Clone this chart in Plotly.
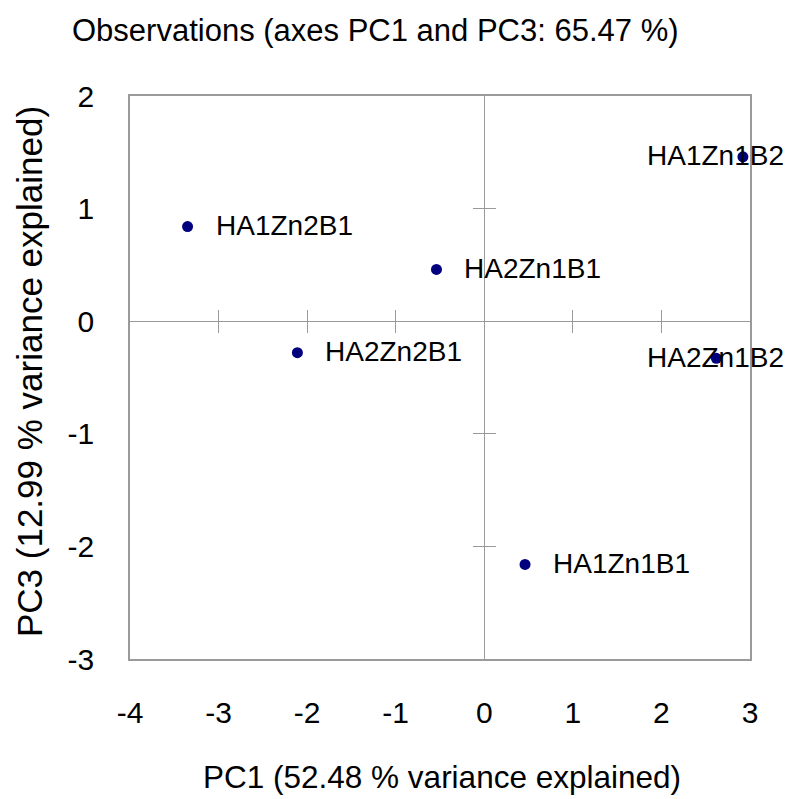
import plotly.graph_objects as go

# ---- data ----
obs_names = ["HA1Zn2B1", "HA2Zn2B1", "HA2Zn1B1", "HA1Zn1B2", "HA2Zn1B2", "HA1Zn1B1"]
pc1_vals = [-3.35, -2.11, -0.54, 2.92, 2.62, 0.46]
pc3_vals = [0.84, -0.28, 0.46, 1.46, -0.33, -2.16]

x_ticks = [-4, -3, -2, -1, 0, 1, 2, 3]
x_tick_labels = ["-4", "-3", "-2", "-1", "0", "1", "2", "3"]
y_ticks = [-3, -2, -1, 0, 1, 2]
y_tick_labels = ["-3", "-2", "-1", "0", "1", "2"]
x_cross_ticks = [-3, -2, -1, 1, 2]
y_cross_ticks = [-2, -1, 1]

title_text = "Observations (axes PC1 and PC3: 65.47 %)"
x_title = "PC1 (52.48 % variance explained)"
y_title = "PC3 (12.99 % variance explained)"

# label pixel offsets (style)
label_xshift = {"HA1Zn1B2": -98, "HA2Zn1B2": -71}

FONT = "Liberation Sans, Arial, sans-serif"
GRAY = "#9a9a9a"
NAVY = "#00007f"
XR = [-4, 3]
YR = [-3, 2]

fig = go.Figure()
fig.add_trace(go.Scatter(
    x=pc1_vals, y=pc3_vals, mode="markers",
    marker=dict(color=NAVY, size=11),
    hoverinfo="text", text=obs_names, showlegend=False,
))
# dummy traces so the cross-tick axes render
for xa, ya in [("x2", "y"), ("x3", "y"), ("x", "y2"), ("x", "y3")]:
    fig.add_trace(go.Scatter(x=[None], y=[None], xaxis=xa, yaxis=ya,
                             showlegend=False, hoverinfo="skip"))

for name, xv, yv in zip(obs_names, pc1_vals, pc3_vals):
    fig.add_annotation(x=xv, y=yv, xref="x", yref="y", text=name,
                       showarrow=False, xanchor="left", yanchor="middle",
                       xshift=label_xshift.get(name, 26), yshift=1,
                       font=dict(family=FONT, size=28, color="black"))

axis_common = dict(showgrid=False, zeroline=True, zerolinecolor=GRAY, zerolinewidth=1.3,
                   showline=True, linecolor=GRAY, linewidth=1.6, mirror=True,
                   ticks="", tickmode="array",
                   tickfont=dict(family=FONT, size=30, color="black"))

yfrac0 = (0 - YR[0]) / (YR[1] - YR[0])
xfrac0 = (0 - XR[0]) / (XR[1] - XR[0])

tick_common = dict(showgrid=False, zeroline=False, showline=False, showticklabels=False,
                   ticklen=11, tickcolor=GRAY, tickwidth=1.3, tickmode="array")

fig.update_layout(
    width=785, height=799,
    margin=dict(l=130, r=35, t=96, b=140),
    paper_bgcolor="white", plot_bgcolor="white",
    xaxis=dict(range=XR, tickvals=x_ticks, ticktext=x_tick_labels,
               ticklabelstandoff=26, **axis_common),
    yaxis=dict(range=YR, tickvals=y_ticks, ticktext=y_tick_labels,
               ticklabelstandoff=28, **axis_common),
    xaxis2=dict(range=XR, overlaying="x", anchor="free", position=yfrac0,
                tickvals=x_cross_ticks, ticks="outside", **tick_common),
    xaxis3=dict(range=XR, overlaying="x", anchor="free", position=yfrac0,
                tickvals=x_cross_ticks, ticks="inside", **tick_common),
    yaxis2=dict(range=YR, overlaying="y", anchor="free", position=xfrac0,
                tickvals=y_cross_ticks, ticks="outside", **tick_common),
    yaxis3=dict(range=YR, overlaying="y", anchor="free", position=xfrac0,
                tickvals=y_cross_ticks, ticks="inside", **tick_common),
)

fig.add_annotation(text=title_text, xref="paper", yref="paper", x=0.396, y=1.117,
                   showarrow=False, xanchor="center", yanchor="middle",
                   font=dict(family=FONT, size=31, color="black"))
fig.add_annotation(text=x_title, xref="paper", yref="paper", x=0.503, y=-0.21,
                   showarrow=False, xanchor="center", yanchor="middle",
                   font=dict(family=FONT, size=31.5, color="black"))
fig.add_annotation(text=y_title, xref="paper", yref="paper", x=-0.161, y=0.51,
                   showarrow=False, xanchor="center", yanchor="middle", textangle=-90,
                   font=dict(family=FONT, size=35, color="black"))

fig.write_html("out.html", config={"displayModeBar": False},
               post_script="document.body.style.margin='0';document.body.style.padding='0';")
